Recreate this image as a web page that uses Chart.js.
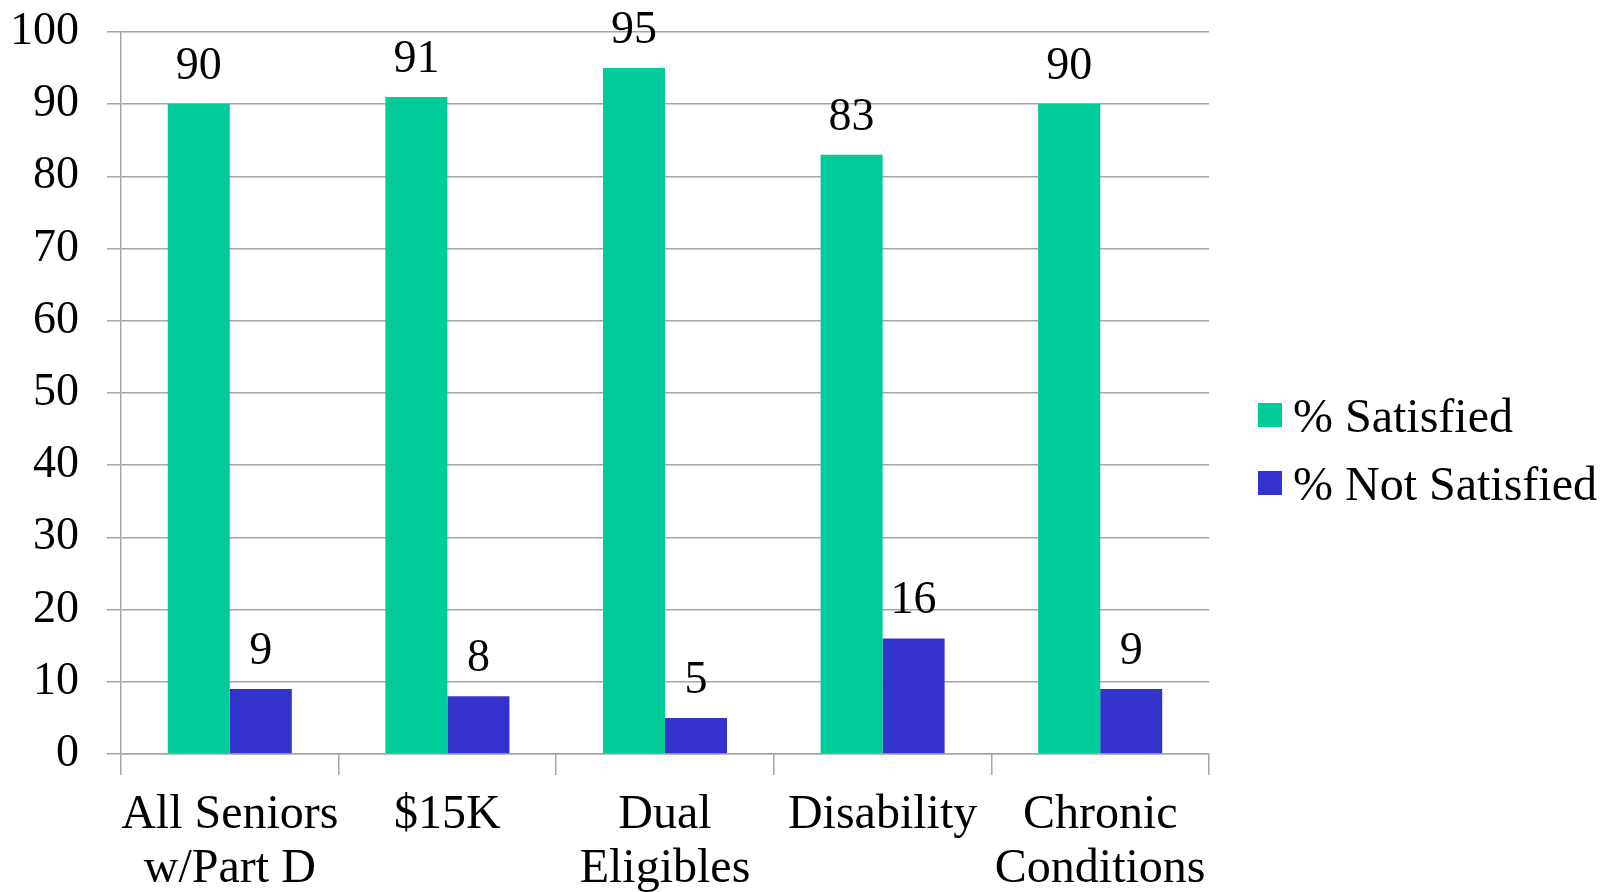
<!DOCTYPE html>
<html>
<head>
<meta charset="utf-8">
<script src="https://cdn.jsdelivr.net/npm/chart.js@4"></script>
<style>
  html, body { margin: 0; padding: 0; background: #fff; }
  .chart-wrapper { width: 1613px; height: 892px; }
</style>
</head>
<body>
<div class="chart-wrapper"><canvas class="chart" width="1613" height="892"></canvas></div>
<script>
const categories = [['All Seniors', 'w/Part D'], '$15K', ['Dual', 'Eligibles'], 'Disability', ['Chronic', 'Conditions']];
const satisfied = [90, 91, 95, 83, 90];
const notSatisfied = [9, 8, 5, 16, 9];
const seriesNames = ['% Satisfied', '% Not Satisfied'];
const seriesColors = ['#00CC99', '#3333CC'];

const FONT = '"Liberation Serif", "Times New Roman", serif';

// values printed above each bar
const barLabels = {
  id: 'barLabels',
  afterDatasetsDraw(chart) {
    const ctx = chart.ctx;
    ctx.save();
    ctx.font = `46px ${FONT}`;
    ctx.fillStyle = '#000';
    ctx.textAlign = 'center';
    ctx.textBaseline = 'alphabetic';
    chart.data.datasets.forEach((ds, i) => {
      chart.getDatasetMeta(i).data.forEach((bar, j) => {
        ctx.fillText(String(ds.data[j]), bar.x, bar.y - 25);
      });
    });
    ctx.restore();
  },
};

// legend drawn to the right of the plot
const sideLegend = {
  id: 'sideLegend',
  afterDraw(chart) {
    const ctx = chart.ctx;
    const left = chart.chartArea.right + 49;
    const top = 403;
    ctx.save();
    ctx.font = `48px ${FONT}`;
    ctx.textAlign = 'left';
    ctx.textBaseline = 'middle';
    chart.data.datasets.forEach((ds, i) => {
      const y = top + i * 68;
      ctx.fillStyle = ds.backgroundColor;
      ctx.fillRect(left, y, 24, 24);
      ctx.fillStyle = '#000';
      ctx.fillText(ds.label, left + 35, y + 16);
    });
    ctx.restore();
  },
};

const ctx = document.querySelector('.chart').getContext('2d');
new Chart(ctx, {
  type: 'bar',
  data: {
    labels: categories,
    datasets: [
      { label: seriesNames[0], data: satisfied, backgroundColor: seriesColors[0] },
      { label: seriesNames[1], data: notSatisfied, backgroundColor: seriesColors[1] },
    ],
  },
  options: {
    responsive: false,
    animation: false,
    layout: { padding: { left: 0, top: 0, right: 404, bottom: 0 } },
    datasets: { bar: { categoryPercentage: 0.57, barPercentage: 1 } },
    plugins: { legend: { display: false }, tooltip: { enabled: false } },
    scales: {
      x: {
        grid: { drawOnChartArea: false, drawTicks: true, tickLength: 21, color: '#a6a6a6', lineWidth: 1.5 },
        border: { color: '#a6a6a6', width: 1.5 },
        ticks: { color: '#000', font: { family: FONT, size: 48, lineHeight: 1.125 }, padding: 13, maxRotation: 0, autoSkip: false },
        afterFit(scale) { scale.height = 138; },
      },
      y: {
        min: 0,
        max: 100,
        grid: { color: '#a6a6a6', lineWidth: 1.5, tickLength: 14 },
        border: { color: '#a6a6a6', width: 1.5 },
        ticks: { stepSize: 10, color: '#000', font: { family: FONT, size: 46, lineHeight: 0.17 }, padding: 28 },
        afterFit(scale) { scale.width = 121; },
      },
    },
  },
  plugins: [barLabels, sideLegend],
});
</script>
</body>
</html>
